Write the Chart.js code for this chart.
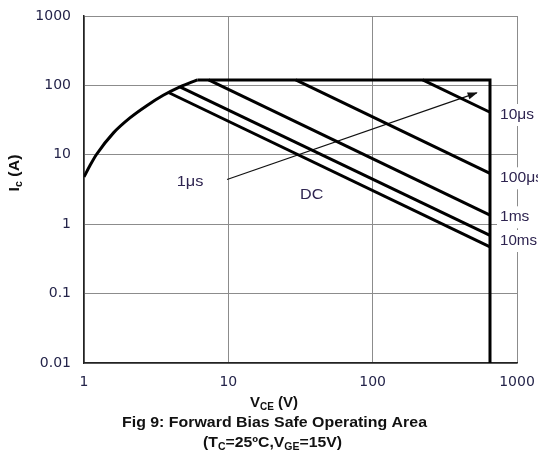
<!DOCTYPE html>
<html><head><meta charset="utf-8">
<script src="https://cdn.jsdelivr.net/npm/chart.js@4/dist/chart.umd.min.js"></script>
<style>html,body{margin:0;padding:0;background:#fff}canvas{display:block}</style>
</head><body>
<canvas id="c" width="538" height="458"></canvas>
<script>
// ---- data ----
const xTicks = [1, 10, 100, 1000];
const xTickLabels = ['1', '10', '100', '1000'];
const yTicks = [0.01, 0.1, 1, 10, 100, 1000];
const yTickLabels = ['0.01', '0.1', '1', '10', '100', '1000'];

const vceMax = 650;          // V
const icMax = 120;           // A
const curveV = [1, 1.1, 1.22, 1.6, 2.08, 2.72, 3.54, 4.62, 6.1];
const curveI = [4.8, 7.0, 10.1, 20.7, 34, 51, 72, 95.3, 120];
const boundaryV = [6.1, 650, 650];
const boundaryI = [120, 120, 0.01];

const pulseLabels = ['10\u03bcs', '100\u03bcs', '1ms', '10ms', 'DC'];
const pulseStartV = [222, 29.3, 7.3, 4.62, 3.85];
const pulseStartI = [120, 120, 120, 95.3, 79];
const pulseEndI   = [41, 5.4, 1.35, 0.69, 0.47];

const arrowV = [9.8, 526];
const arrowI = [4.4, 78];
const arrowLabel = '1\u03bcs';

// ---- chart ----
const datasets = [];
datasets.push({
  data: curveV.map((v, i) => ({x: v, y: curveI[i]})),
  borderColor: '#000', borderWidth: 3, cubicInterpolationMode: 'monotone'
});
datasets.push({
  data: boundaryV.map((v, i) => ({x: v, y: boundaryI[i]})),
  borderColor: '#000', borderWidth: 3, borderJoinStyle: 'miter'
});
pulseLabels.forEach((l, i) => {
  datasets.push({
    data: [{x: pulseStartV[i], y: pulseStartI[i]}, {x: vceMax, y: pulseEndI[i]}],
    borderColor: '#000', borderWidth: 3
  });
});
const arrowIndex = datasets.length;
datasets.push({
  data: arrowV.map((v, i) => ({x: v, y: arrowI[i]})),
  borderColor: '#111', borderWidth: 1.2
});

const tickColor = '#24244a';
const labelColor = '#2e2450';

function drawRich(c, segs, cx, cy, size, bold, targetW, color, rot) {
  const main = (bold ? 'bold ' : '') + size + 'px "Liberation Sans", Arial, sans-serif';
  const subSize = Math.round(size * 0.66);
  const sub = (bold ? 'bold ' : '') + subSize + 'px "Liberation Sans", Arial, sans-serif';
  let total = 0;
  segs.forEach(s => { c.font = s.sub ? sub : main; s.w = c.measureText(s.t).width; total += s.w; });
  const sx = targetW ? targetW / total : 1;
  c.save();
  c.translate(cx, cy);
  if (rot) c.rotate(rot);
  c.scale(sx, 1);
  c.fillStyle = color;
  c.textBaseline = 'middle';
  c.textAlign = 'left';
  let x = -total / 2;
  segs.forEach(s => {
    c.font = s.sub ? sub : main;
    c.fillText(s.t, x, s.sub ? size * 0.28 : 0);
    x += s.w;
  });
  c.restore();
}

function drawLabel(c, text, left, cy, size, targetW, color, bg) {
  c.save();
  c.font = size + 'px "Liberation Sans", Arial, sans-serif';
  const w = c.measureText(text).width;
  const sx = targetW / w;
  if (bg) {
    c.fillStyle = '#fff';
    c.fillRect(left - 3, cy - 11, targetW + 8, 22);
  }
  c.translate(left, cy);
  c.scale(sx, 1);
  c.fillStyle = color;
  c.textBaseline = 'middle';
  c.textAlign = 'left';
  c.fillText(text, 0, 0);
  c.restore();
}

const annot = {
  id: 'annot',
  afterDatasetsDraw(chart) {
    const c = chart.ctx;
    const m = chart.getDatasetMeta(arrowIndex).data;
    const p0 = m[0], p1 = m[1];
    const a = Math.atan2(p1.y - p0.y, p1.x - p0.x);
    c.save();
    c.translate(p1.x, p1.y);
    c.rotate(a);
    c.fillStyle = '#111';
    c.beginPath();
    c.moveTo(1, 0);
    c.lineTo(-9, -3.6);
    c.lineTo(-9, 3.6);
    c.closePath();
    c.fill();
    c.restore();

    const rightLab = [
      {t: pulseLabels[0], y: 115, w: 34},
      {t: pulseLabels[1], y: 178.3, w: 43},
      {t: pulseLabels[2], y: 217.3, w: 29.3},
      {t: pulseLabels[3], y: 241, w: 37}
    ];
    rightLab.forEach(r => drawLabel(c, r.t, 500, r.y, 15, r.w, labelColor, true));
    drawLabel(c, pulseLabels[4], 300, 195, 15, 23.3, labelColor, false);
    drawLabel(c, arrowLabel, 176.7, 181.7, 15, 26.7, labelColor, false);
  },
  afterDraw(chart) {
    const c = chart.ctx;
    drawRich(c, [{t: 'I'}, {t: 'c', sub: true}, {t: ' (A)'}], 15, 173, 15, true, 37, '#111', -Math.PI / 2);
    drawRich(c, [{t: 'V'}, {t: 'CE', sub: true}, {t: ' (V)'}], 274, 403, 15, true, 48, '#111');
    drawRich(c, [{t: 'Fig 9: Forward Bias Safe Operating Area'}], 274.5, 423, 15, true, 305, '#111');
    drawRich(c, [{t: '(T'}, {t: 'C', sub: true}, {t: '=25\u00baC,V'}, {t: 'GE', sub: true}, {t: '=15V)'}], 272.5, 443, 15, true, 139, '#111');
  }
};

new Chart(document.getElementById('c'), {
  type: 'scatter',
  data: {datasets},
  options: {
    responsive: false,
    devicePixelRatio: 1,
    animation: false,
    showLine: true,
    elements: {point: {radius: 0, hoverRadius: 0}, line: {tension: 0}},
    layout: {padding: {top: 16, right: 21, left: 0, bottom: 0}},
    plugins: {legend: {display: false}, tooltip: {enabled: false}},
    scales: {
      x: {
        type: 'logarithmic', min: 1, max: 1000,
        afterBuildTicks: s => { s.ticks = xTicks.map(v => ({value: v})); },
        afterFit: s => { s.height = 95; s.paddingLeft = 0; s.paddingRight = 0; },
        ticks: {
          autoSkip: false, maxRotation: 0, padding: 11,
          color: tickColor, font: {family: 'DejaVu Sans', size: 14},
          callback: (v, i) => xTickLabels[i]
        },
        grid: {color: '#8c8c8c', lineWidth: 1, drawTicks: false},
        border: {color: '#222', width: 1.5}
      },
      y: {
        type: 'logarithmic', min: 0.01, max: 1000,
        afterBuildTicks: s => { s.ticks = yTicks.map(v => ({value: v})); },
        afterFit: s => { s.width = 84; s.paddingTop = 0; s.paddingBottom = 0; },
        ticks: {
          autoSkip: false, padding: 13,
          color: tickColor, font: {family: 'DejaVu Sans', size: 14},
          callback: (v, i) => yTickLabels[i]
        },
        grid: {color: '#8c8c8c', lineWidth: 1, drawTicks: false},
        border: {color: '#222', width: 1.5}
      }
    }
  },
  plugins: [annot]
});
</script>
</body></html>
